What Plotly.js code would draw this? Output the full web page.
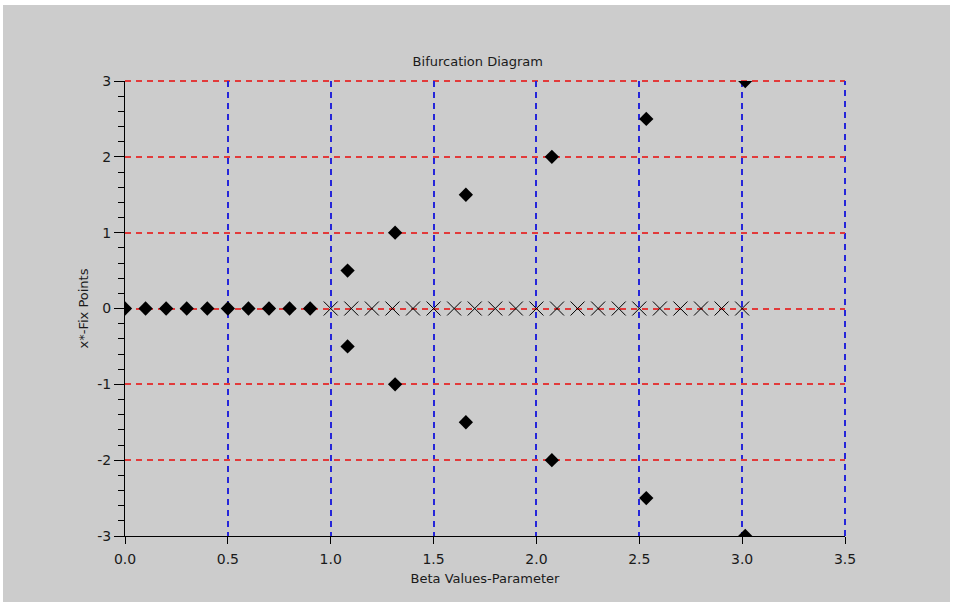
<!DOCTYPE html>
<html>
<head>
<meta charset="utf-8">
<script src="https://cdn.plot.ly/plotly-3.0.1.min.js"></script>
<style>
  html, body { margin: 0; padding: 0; background: #ffffff; }
  #chart { position: absolute; left: 3px; top: 5px; width: 947px; height: 597px; }
</style>
</head>
<body>
<div id="chart"></div>
<script>
// Stable fixed points (diamonds) below the bifurcation
const stableBeta = [0.0, 0.1, 0.2, 0.3, 0.4, 0.5, 0.6, 0.7, 0.8, 0.9];
const stableX    = [0, 0, 0, 0, 0, 0, 0, 0, 0, 0];

// Unstable fixed point x*=0 (crosses) above the bifurcation
const unstableBeta = [1.0, 1.1, 1.2, 1.3, 1.4, 1.5, 1.6, 1.7, 1.8, 1.9, 2.0,
                      2.1, 2.2, 2.3, 2.4, 2.5, 2.6, 2.7, 2.8, 2.9, 3.0];
const unstableX    = [0, 0, 0, 0, 0, 0, 0, 0, 0, 0, 0,
                      0, 0, 0, 0, 0, 0, 0, 0, 0, 0];

// Nonzero branch (diamonds), symmetric pairs
const branchBeta = [1.082, 1.313, 1.657, 2.075, 2.534, 3.015,
                    1.082, 1.313, 1.657, 2.075, 2.534, 3.015];
const branchX    = [0.5, 1.0, 1.5, 2.0, 2.5, 3.0,
                    -0.5, -1.0, -1.5, -2.0, -2.5, -3.0];

const xTickVals = [0, 0.5, 1.0, 1.5, 2.0, 2.5, 3.0, 3.5];
const xTickText = ["0.0", "0.5", "1.0", "1.5", "2.0", "2.5", "3.0", "3.5"];
const yTickVals = [-3, -2, -1, 0, 1, 2, 3];
const yTickText = ["-3", "-2", "-1", "0", "1", "2", "3"];

const xMax = 3.5;
const yMax = 3;

const blueGrid = '#2626d9';
const redGrid = '#e23a3a';
const dashPat = '6px,5px';

const diamond = { symbol: 'diamond', size: 11, color: '#000000' };

const traces = [
  { x: stableBeta, y: stableX, type: 'scatter', mode: 'markers', marker: diamond, showlegend: false },
  { x: unstableBeta, y: unstableX, type: 'scatter', mode: 'markers',
    marker: { symbol: 'x-thin-open', size: 14, color: '#000000', line: { color: '#000000', width: 1 } },
    showlegend: false },
  { x: branchBeta, y: branchX, type: 'scatter', mode: 'markers', marker: diamond, showlegend: false }
];

const font = { family: '"DejaVu Sans", "Liberation Sans", Arial, sans-serif', color: '#1a1a1a' };

const layout = {
  width: 947, height: 597,
  paper_bgcolor: '#cccccc', plot_bgcolor: '#cccccc',
  margin: { l: 122, r: 105, t: 76, b: 66 },
  showlegend: false,
  title: { text: 'Bifurcation Diagram', font: Object.assign({ size: 13 }, font),
           x: 0.49, xref: 'paper', xanchor: 'center', y: 1, yref: 'paper', yanchor: 'bottom', pad: { b: 15 } },
  xaxis: {
    range: [0, xMax], autorange: false,
    tickvals: xTickVals, ticktext: xTickText,
    ticks: 'outside', ticklen: 7, tickcolor: '#000000', tickwidth: 1,
    ticklabelstandoff: 3,
    showline: true, linecolor: '#000000', linewidth: 1,
    showgrid: true, gridcolor: blueGrid, gridwidth: 2, griddash: dashPat,
    zeroline: false,
    tickfont: Object.assign({ size: 14 }, font),
    title: { text: 'Beta Values-Parameter', font: Object.assign({ size: 13 }, font), standoff: 8 }
  },
  yaxis: {
    range: [-yMax, yMax], autorange: false,
    tickvals: yTickVals, ticktext: yTickText,
    ticks: 'outside', ticklen: 10, tickcolor: '#000000', tickwidth: 1,
    minor: { dtick: 0.2, ticks: 'outside', ticklen: 6, tickcolor: '#000000', showgrid: false },
    showline: true, linecolor: '#000000', linewidth: 1,
    showgrid: true, gridcolor: redGrid, gridwidth: 2, griddash: dashPat,
    zeroline: false,
    tickfont: Object.assign({ size: 14 }, font),
    title: { text: 'x*-Fix Points', font: Object.assign({ size: 13 }, font), standoff: 5 }
  },
  shapes: [
    { type: 'line', xref: 'x', yref: 'paper', x0: 0, x1: xMax, y0: 1, y1: 1,
      line: { color: redGrid, width: 2, dash: dashPat }, layer: 'below' },
    { type: 'line', xref: 'paper', yref: 'y', x0: 1, x1: 1, y0: -yMax, y1: yMax,
      line: { color: blueGrid, width: 2, dash: dashPat }, layer: 'below' }
  ]
};

Plotly.newPlot('chart', traces, layout, { displayModeBar: false, staticPlot: true });
</script>
</body>
</html>
